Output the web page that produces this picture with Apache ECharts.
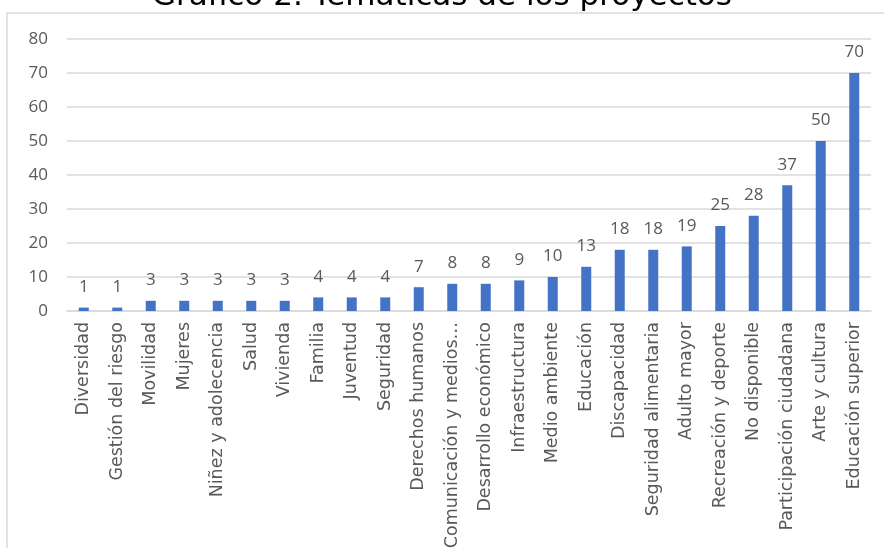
<!DOCTYPE html>
<html>
<head>
<meta charset="utf-8">
<script src="https://cdn.jsdelivr.net/npm/echarts@6/dist/echarts.min.js"></script>
<style>
  html, body { margin: 0; padding: 0; background: #fff; }
  #chart { width: 884px; height: 548px; }
</style>
</head>
<body>
<div id="chart"></div>
<script>
// temáticas y número de proyectos
var categories = [
  'Diversidad', 'Gestión del riesgo', 'Movilidad', 'Mujeres', 'Niñez y adolecencia',
  'Salud', 'Vivienda', 'Familia', 'Juventud', 'Seguridad', 'Derechos humanos',
  'Comunicación y medios…', 'Desarrollo económico', 'Infraestructura', 'Medio ambiente',
  'Educación', 'Discapacidad', 'Seguridad alimentaria', 'Adulto mayor',
  'Recreación y deporte', 'No disponible', 'Participación ciudadana', 'Arte y cultura',
  'Educación superior'
];
var proyectos = [1, 1, 3, 3, 3, 3, 3, 4, 4, 4, 7, 8, 8, 9, 10, 13, 18, 18, 19, 25, 28, 37, 50, 70];

var chart = echarts.init(document.getElementById('chart'));
chart.setOption({
  animation: false,
  textStyle: { fontFamily: 'Open Sans' },
  title: {
    text: 'Gráfico 2. Temáticas de los proyectos',
    left: 'center',
    top: -24,
    textStyle: { fontSize: 31, fontWeight: 'normal', color: '#000', fontFamily: 'DejaVu Sans' }
  },
  graphic: [{
    type: 'rect',
    shape: { x: 7, y: 13, width: 900, height: 560 },
    style: { fill: 'none', stroke: '#d9d9d9', lineWidth: 1.5 },
    silent: true
  }],
  grid: { left: 67, right: 13, top: 39, bottom: 237, containLabel: false, outerBoundsMode: 'none' },
  xAxis: {
    type: 'category',
    data: categories,
    axisLine: { lineStyle: { color: '#d9d9d9', width: 1.5 } },
    axisTick: { show: false },
    axisLabel: {
      rotate: 90,
      interval: 0,
      fontSize: 17.5,
      fontFamily: 'DejaVu Sans',
      color: '#595959',
      margin: 11
    }
  },
  yAxis: {
    type: 'value',
    min: 0,
    max: 80,
    interval: 10,
    axisLine: { show: false },
    axisTick: { show: false },
    axisLabel: { fontSize: 17, color: '#595959', margin: 19 },
    splitLine: { lineStyle: { color: '#d9d9d9', width: 1.5 } }
  },
  series: [{
    type: 'bar',
    data: proyectos,
    barWidth: 10,
    itemStyle: { color: '#4472C4' },
    label: {
      show: true,
      position: 'top',
      distance: 12,
      fontSize: 17,
      color: '#595959'
    }
  }]
});
</script>
</body>
</html>
